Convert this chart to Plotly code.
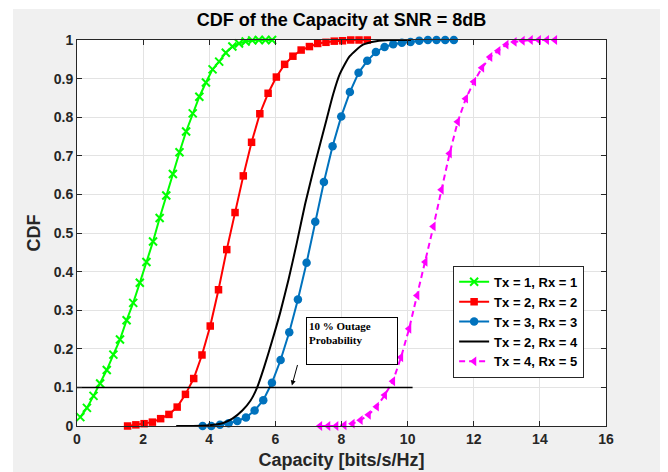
import plotly.graph_objects as go

# ---------------- data ----------------
green_x = [0.1 + 0.2 * k for k in range(30)]
green_y = [0.023, 0.047, 0.078, 0.110, 0.145, 0.185, 0.224, 0.274, 0.319, 0.371,
           0.425, 0.478, 0.539, 0.597, 0.653, 0.709, 0.763, 0.810, 0.853, 0.890,
           0.924, 0.944, 0.967, 0.983, 0.991, 0.996, 0.999, 1.000, 1.000, 1.000]

red_x = [1.53 + 0.25 * k for k in range(30)]
red_y = [0.000, 0.003, 0.006, 0.010, 0.019, 0.030, 0.049, 0.082, 0.123, 0.184,
         0.259, 0.353, 0.457, 0.553, 0.648, 0.735, 0.809, 0.862, 0.904, 0.937,
         0.958, 0.974, 0.983, 0.991, 0.994, 0.997, 0.998, 1.000, 1.000, 1.000]

blue_x = [3.8 + 0.262 * k for k in range(30)]
blue_y = [0.000, 0.000, 0.003, 0.007, 0.013, 0.022, 0.040, 0.067, 0.112, 0.171,
          0.243, 0.328, 0.423, 0.529, 0.632, 0.725, 0.802, 0.865, 0.915, 0.946,
          0.969, 0.982, 0.989, 0.993, 0.995, 0.998, 1.000, 1.000, 1.000, 1.000]

black_x = [3.0, 3.5, 4.0, 4.4, 4.7, 5.0, 5.25, 5.45, 5.65, 5.9, 6.15, 6.4, 6.65,
           6.9, 7.2, 7.55, 7.75, 7.95, 8.25, 8.65, 9.05, 9.5, 10.1]
black_y = [0.0, 0.0, 0.002, 0.007, 0.019, 0.040, 0.066, 0.100, 0.150, 0.220, 0.295,
           0.380, 0.475, 0.575, 0.680, 0.795, 0.860, 0.912, 0.958, 0.988, 0.997,
           1.0, 1.0]

mag_x = [7.35 + 0.245 * k for k in range(30)]
mag_y = [0.000, 0.000, 0.000, 0.002, 0.006, 0.015, 0.029, 0.050, 0.080, 0.116,
         0.178, 0.252, 0.338, 0.425, 0.517, 0.612, 0.706, 0.788, 0.848, 0.892,
         0.928, 0.956, 0.972, 0.988, 0.995, 0.998, 1.000, 1.000, 1.000, 1.000]

outage_x = [0.0, 10.15]
outage_y = [0.1, 0.1]

names = ["Tx = 1, Rx = 1", "Tx = 2, Rx = 2", "Tx = 3, Rx = 3",
         "Tx = 2, Rx = 4", "Tx = 4, Rx = 5"]

x_ticks = [0, 2, 4, 6, 8, 10, 12, 14, 16]
y_ticks = [0, 0.1, 0.2, 0.3, 0.4, 0.5, 0.6, 0.7, 0.8, 0.9, 1]
y_ticktext = ["0", "0.1", "0.2", "0.3", "0.4", "0.5", "0.6", "0.7", "0.8", "0.9", "1"]

# ---------------- figure ----------------
FONT = "Liberation Sans, Arial, sans-serif"
fig = go.Figure()

fig.add_trace(go.Scatter(x=green_x, y=green_y, name=names[0], mode="lines+markers",
                         line=dict(color="#00ff00", width=2),
                         marker=dict(symbol="x-thin", size=8, color="#00ff00",
                                     line=dict(color="#00ff00", width=2)),
                         cliponaxis=False))
fig.add_trace(go.Scatter(x=red_x, y=red_y, name=names[1], mode="lines+markers",
                         line=dict(color="#ff0000", width=2),
                         marker=dict(symbol="square", size=7.5, color="#ff0000"),
                         cliponaxis=False))
fig.add_trace(go.Scatter(x=blue_x, y=blue_y, name=names[2], mode="lines+markers",
                         line=dict(color="#0072bd", width=2),
                         marker=dict(symbol="circle", size=8.5, color="#0072bd"),
                         cliponaxis=False))
fig.add_trace(go.Scatter(x=black_x, y=black_y, name=names[3], mode="lines",
                         line=dict(color="#000000", width=2, shape="spline", smoothing=0.6),
                         cliponaxis=False))
fig.add_trace(go.Scatter(x=mag_x, y=mag_y, name=names[4], mode="lines+markers",
                         line=dict(color="#ff00ff", width=2, dash="6px,4px"),
                         marker=dict(symbol="triangle-left", size=8.5, color="#ff00ff"),
                         cliponaxis=False))
fig.add_trace(go.Scatter(x=outage_x, y=outage_y, mode="lines", showlegend=False,
                         line=dict(color="#000000", width=1.5), hoverinfo="skip"))

axis_common = dict(showline=True, linecolor="#262626", linewidth=1, mirror="ticks",
                   ticks="inside", ticklen=5, tickcolor="#262626", automargin=False,
                   showgrid=True, gridcolor="#e3e3e3", gridwidth=1, zeroline=False,
                   tickfont=dict(family=FONT, size=14, color="#262626", weight="bold"))

fig.update_xaxes(range=[0, 16], tickvals=x_ticks, **axis_common,
                 title=dict(text="Capacity [bits/s/Hz]", standoff=7,
                            font=dict(family=FONT, size=18, color="#262626", weight="bold")))
fig.update_yaxes(range=[0, 1], tickvals=y_ticks, ticktext=y_ticktext, **axis_common,
                 title=dict(text="CDF", standoff=8,
                            font=dict(family=FONT, size=18, color="#262626", weight="bold")))

# the page body adds an 8px margin, so the figure is 660x464 placed at (8, 8)
W, H = 660, 464
fig.update_layout(
    width=W, height=H,
    margin=dict(l=69, r=62, t=32, b=46, autoexpand=False),
    paper_bgcolor="white", plot_bgcolor="white",
    title=dict(text="CDF of the Capacity at SNR = 8dB", x=0.5, xref="paper",
               y=1 - 12 / H, yanchor="middle",
               font=dict(family=FONT, size=18, color="#000000", weight="bold")),
    legend=dict(x=0.711, y=0.415, xanchor="left", yanchor="top",
                bgcolor="white", bordercolor="#262626", borderwidth=1,
                font=dict(family=FONT, size=13, color="#000000", weight="bold"),
                tracegroupgap=0, itemwidth=30),
    shapes=[
        dict(type="rect", xref="paper", yref="paper", x0=-0.121, x1=1.106,
             y0=-0.2, y1=1.080, fillcolor="#f0f0f0", line=dict(width=0), layer="below"),
        dict(type="rect", xref="paper", yref="paper", x0=0, x1=1, y0=0, y1=1,
             fillcolor="white", line=dict(width=0), layer="below"),
    ],
    annotations=[
        dict(x=8.33, y=0.22, xref="x", yref="y", showarrow=False,
             text="10 % Outage<br>Probability", align="left", valign="top",
             width=86, height=42, borderpad=2,
             bordercolor="#000000", borderwidth=1, bgcolor="white",
             font=dict(family="Liberation Serif, Times New Roman, serif", size=11,
                       color="#000000", weight="bold")),
        dict(x=6.5, y=0.105, xref="x", yref="y", text="", showarrow=True,
             ax=6, ay=-22, arrowhead=2, arrowsize=1, arrowwidth=1, arrowcolor="#000000"),
    ],
)

fig.write_html("out.html")
